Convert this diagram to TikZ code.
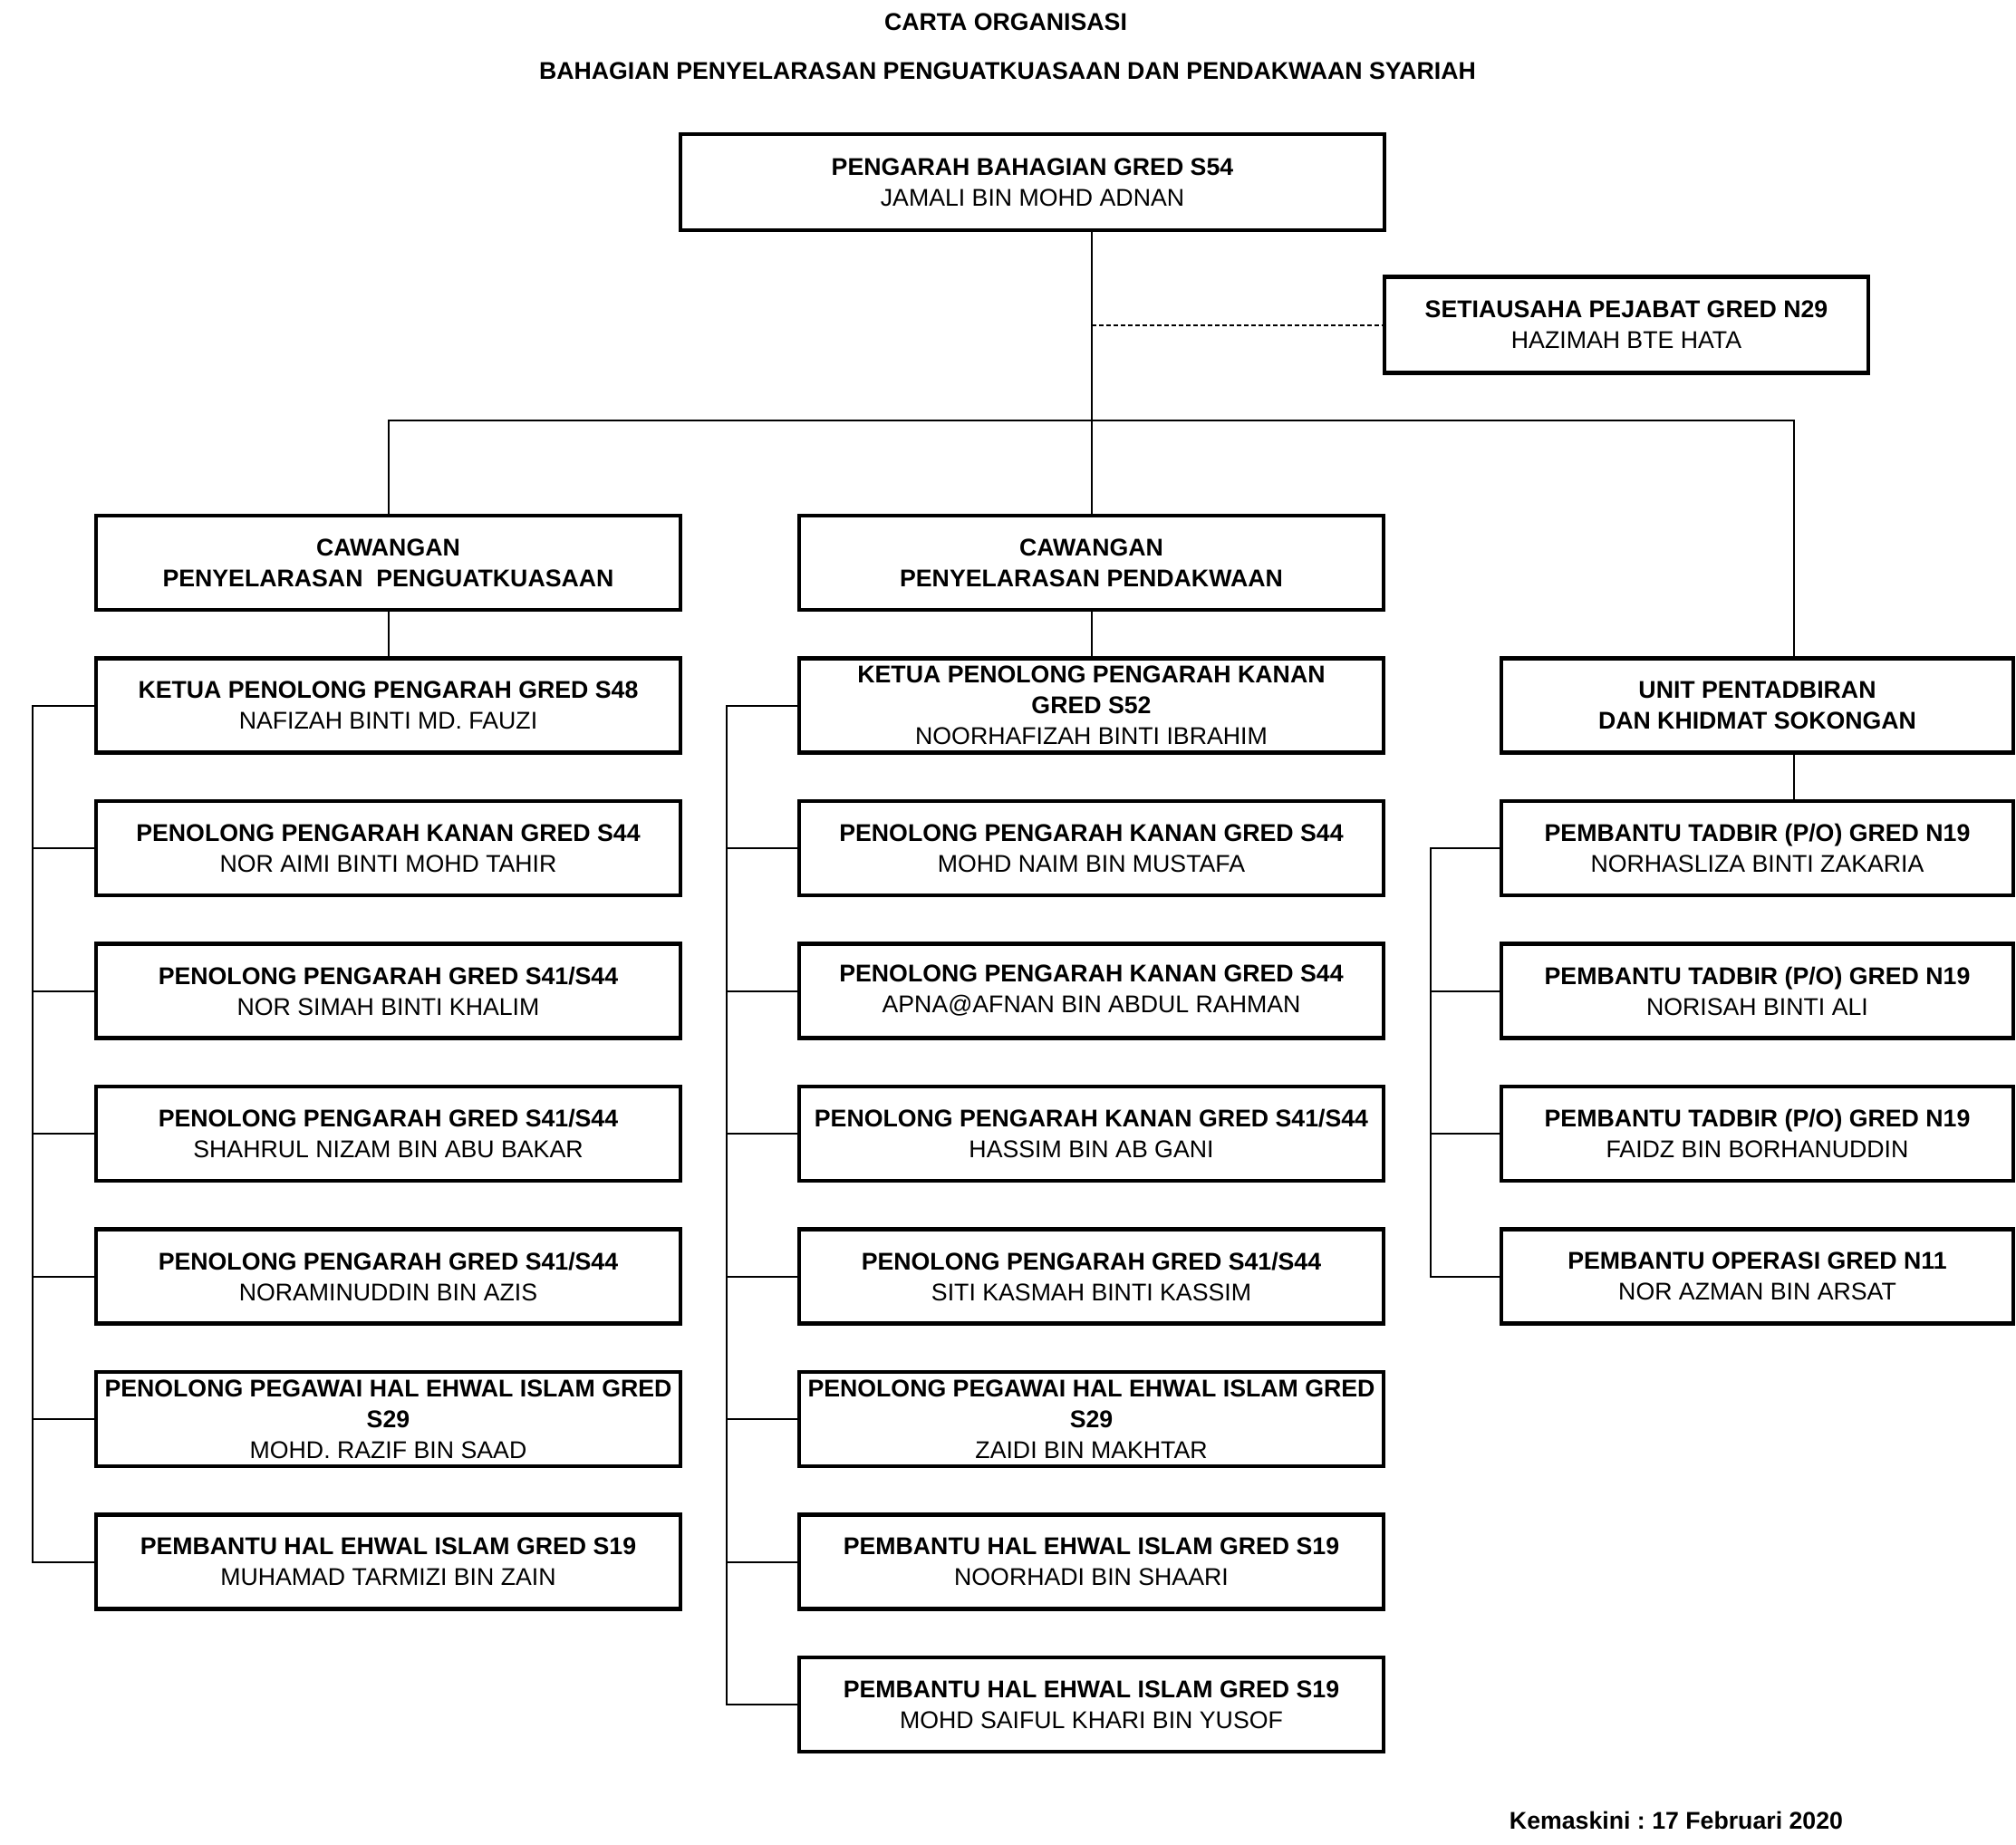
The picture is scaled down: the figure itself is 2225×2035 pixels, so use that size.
\documentclass[tikz,border=0pt]{standalone}
\usepackage{fontspec}
\setmainfont{Liberation Sans}
\frenchspacing
\newcommand\chartfont{\fontsize{26.7}{34}\selectfont}
\begin{document}
\begin{tikzpicture}[x=1pt,y=-1pt,
  box/.style={draw, line width=4.5pt, minimum height=104pt, align=center, inner sep=1pt, font=\chartfont},
  lbox/.style={box, minimum width=645pt},
  rbox/.style={box, minimum width=565pt},
  link/.style={line width=2pt},
  dlink/.style={line width=2pt, dash pattern=on 5pt off 3pt},
  ttl/.style={font=\chartfont\bfseries, inner sep=0pt}]
\useasboundingbox (0,0) rectangle (2225,2035);
% titles
\node[ttl] (t1) at (1110,24) {CARTA ORGANISASI};
\node[ttl] (t2) at (1112,78) {BAHAGIAN PENYELARASAN PENGUATKUASAAN DAN PENDAKWAAN SYARIAH};
\node[ttl] (upd) at (1850,2009) {Kemaskini : 17 Februari 2020};
% top
\node[box, minimum width=777pt, minimum height=106pt] (top) at (1139.5,201) {{\bfseries PENGARAH BAHAGIAN GRED S54}\\JAMALI BIN MOHD ADNAN};
\node[box, minimum width=534pt, minimum height=106pt] (sec) at (1795,358.5) {{\bfseries SETIAUSAHA PEJABAT GRED N29}\\HAZIMAH BTE HATA};
% branches
\node[lbox] (c1) at (428.5,621) {\bfseries CAWANGAN\\\bfseries PENYELARASAN~~PENGUATKUASAAN};
\node[lbox] (c2) at (1204.5,621) {\bfseries CAWANGAN\\\bfseries PENYELARASAN PENDAKWAAN};
% left column
\node[lbox] (l1) at (428.5,778.5) {{\bfseries KETUA PENOLONG PENGARAH GRED S48}\\NAFIZAH BINTI MD. FAUZI};
\node[lbox] (l2) at (428.5,936) {{\bfseries PENOLONG PENGARAH KANAN GRED S44}\\NOR AIMI BINTI MOHD TAHIR};
\node[lbox] (l3) at (428.5,1093.5) {{\bfseries PENOLONG PENGARAH GRED S41/S44}\\NOR SIMAH BINTI KHALIM};
\node[lbox] (l4) at (428.5,1251) {{\bfseries PENOLONG PENGARAH GRED S41/S44}\\SHAHRUL NIZAM BIN ABU BAKAR};
\node[lbox] (l5) at (428.5,1408.5) {{\bfseries PENOLONG PENGARAH GRED S41/S44}\\NORAMINUDDIN BIN AZIS};
\node[lbox] (l6) at (428.5,1566) {{\bfseries PENOLONG PEGAWAI HAL EHWAL ISLAM GRED}\\{\bfseries S29}\\MOHD. RAZIF BIN SAAD};
\node[lbox] (l7) at (428.5,1723.5) {{\bfseries PEMBANTU HAL EHWAL ISLAM GRED S19}\\MUHAMAD TARMIZI BIN ZAIN};
% middle column
\node[lbox] (m1) at (1204.5,778.5) {{\bfseries KETUA PENOLONG PENGARAH KANAN}\\{\bfseries GRED S52}\\NOORHAFIZAH BINTI IBRAHIM};
\node[lbox] (m2) at (1204.5,936) {{\bfseries PENOLONG PENGARAH KANAN GRED S44}\\MOHD NAIM BIN MUSTAFA};
\node[lbox] (m3) at (1204.5,1093.5) {{\bfseries PENOLONG PENGARAH KANAN GRED S44}\\APNA@AFNAN BIN ABDUL RAHMAN};
\node[lbox] (m4) at (1204.5,1251) {{\bfseries PENOLONG PENGARAH KANAN GRED S41/S44}\\HASSIM BIN AB GANI};
\node[lbox] (m5) at (1204.5,1408.5) {{\bfseries PENOLONG PENGARAH GRED S41/S44}\\SITI KASMAH BINTI KASSIM};
\node[lbox] (m6) at (1204.5,1566) {{\bfseries PENOLONG PEGAWAI HAL EHWAL ISLAM GRED}\\{\bfseries S29}\\ZAIDI BIN MAKHTAR};
\node[lbox] (m7) at (1204.5,1723.5) {{\bfseries PEMBANTU HAL EHWAL ISLAM GRED S19}\\NOORHADI BIN SHAARI};
\node[lbox] (m8) at (1204.5,1881) {{\bfseries PEMBANTU HAL EHWAL ISLAM GRED S19}\\MOHD SAIFUL KHARI BIN YUSOF};
% right column
\node[rbox] (r1) at (1939.5,778.5) {\bfseries UNIT PENTADBIRAN\\\bfseries DAN KHIDMAT SOKONGAN};
\node[rbox] (r2) at (1939.5,936) {{\bfseries PEMBANTU TADBIR (P/O) GRED N19}\\NORHASLIZA BINTI ZAKARIA};
\node[rbox] (r3) at (1939.5,1093.5) {{\bfseries PEMBANTU TADBIR (P/O) GRED N19}\\NORISAH BINTI ALI};
\node[rbox] (r4) at (1939.5,1251) {{\bfseries PEMBANTU TADBIR (P/O) GRED N19}\\FAIDZ BIN BORHANUDDIN};
\node[rbox] (r5) at (1939.5,1408.5) {{\bfseries PEMBANTU OPERASI GRED N11}\\NOR AZMAN BIN ARSAT};
% helper coordinates
\coordinate (bar) at (1980,464);
\coordinate (lbx) at (35.5,0);
\coordinate (mbx) at (802,0);
\coordinate (rbx) at (1579,0);
% connectors
\draw[link] (c2.north) -- (c2.north |- top.south);
\draw[dlink] (c2.north |- sec.west) -- (sec.west);
\draw[link] (c1.north) -- (c1.north |- bar) -- (bar) -- (bar |- r1.north);
\draw[link] (c1.south) -- (l1.north);
\draw[link] (c2.south) -- (m1.north);
\draw[link] (bar |- r1.south) -- (bar |- r2.north);
% left bracket
\draw[link] (l1.west) -- (l1.west -| lbx) -- (l7.west -| lbx) -- (l7.west);
\foreach \n in {l2,l3,l4,l5,l6} \draw[link] (\n.west) -- (\n.west -| lbx);
% middle bracket
\draw[link] (m1.west) -- (m1.west -| mbx) -- (m8.west -| mbx) -- (m8.west);
\foreach \n in {m2,m3,m4,m5,m6,m7} \draw[link] (\n.west) -- (\n.west -| mbx);
% right bracket
\draw[link] (r2.west) -- (r2.west -| rbx) -- (r5.west -| rbx) -- (r5.west);
\foreach \n in {r3,r4} \draw[link] (\n.west) -- (\n.west -| rbx);
\end{tikzpicture}
\end{document}
